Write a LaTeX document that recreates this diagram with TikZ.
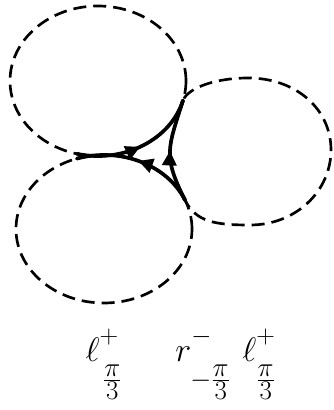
\documentclass[tikz,border=0pt]{standalone}
\usepackage{fix-cm}
\usepackage{amsmath}
\usepackage{tikz}
\usetikzlibrary{arrows.meta,calc,decorations.markings}
\newcommand{\upsign}[1]{\raisebox{1.9mm}{\fontsize{22}{26}\selectfont$#1$}}
\newcommand{\lowfrac}[1]{\raisebox{-5mm}{\fontsize{23}{27}\selectfont$#1\frac{\displaystyle\pi}{\displaystyle3}$}}

\begin{document}
\begin{tikzpicture}[x=0.3mm,y=0.3mm,line join=round,
  guide/.style={line width=.8mm,dash pattern=on 3.9mm off 2.1mm},
  route/.style={line width=1.1mm,line cap=round},
  word/.style={anchor=base,inner sep=0pt,font=\fontsize{29}{34}\selectfont},
  midarrow/.style={postaction={decorate},decoration={markings,
    mark=at position .5 with {\arrow{Triangle[length=4.4mm,width=4.2mm]}}}},
  midback/.style={postaction={decorate},decoration={markings,
    mark=at position .5 with {\arrowreversed{Triangle[length=4.4mm,width=4.2mm]}}}}]
\path[use as bounding box] (0,0) rectangle (334,410);
\fill[white] (0,0) rectangle (334,410);
\coordinate (A) at (98,329);
\coordinate (C) at (104,181);
\coordinate (T) at ($(A)+(-15:88 and 75)$);
\coordinate (B) at ($(C)+(23:88 and 74)$);
\coordinate (L) at ($(A)+(-104:88 and 75)$);
% 三个转弯圆
\draw[guide] (A) ellipse[x radius=88,y radius=75];
\draw[guide] (C) ellipse[x radius=88,y radius=74];
\draw[guide] (T) .. controls (168,262) and (162.5,254.5) .. (B)
  .. controls (196,188) and (215,185) .. (250,185)
  .. controls (296,185) and (331,219) .. (331,260)
  .. controls (331,301) and (296,332) .. (248,332)
  .. controls (215,332) and (188,322) .. (T);
% 路径 l+ r- l+
\draw[route,midarrow] (L) arc[start angle=-104,end angle=-15,x radius=88,y radius=75];
\draw[route,midback] (T) .. controls (168,262) and (162.5,254.5) .. (B);
\draw[route,midarrow] (B) arc[start angle=23,end angle=108,x radius=88,y radius=74];
\node[word] (lone) at (104,48) {$\ell^{\upsign{+}}_{\hspace{1mm}\lowfrac{}}$};
\node[word] (rtwo) at (203,48) {$r^{\upsign{-}}_{\lowfrac{-}}$};
\node[word] (lthree) at (259,48) {$\ell^{\upsign{+}}_{\lowfrac{}}$};
\end{tikzpicture}
\end{document}
